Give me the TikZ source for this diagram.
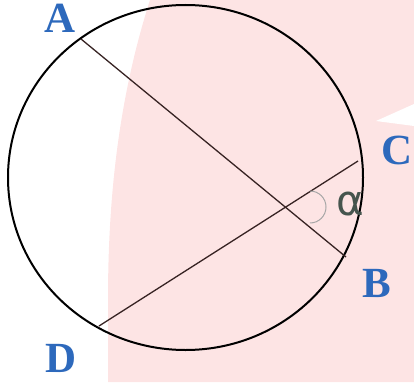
\documentclass[tikz,border=0pt]{standalone}
\usepackage{fontspec}
\newfontfamily\lblfont{Liberation Serif}
\newfontfamily\grkfont{DejaVu Sans}
\definecolor{pinkbg}{RGB}{253,228,228}
\definecolor{lblblue}{RGB}{45,105,188}
\definecolor{chordc}{RGB}{55,35,35}
\definecolor{alphac}{RGB}{70,85,78}
\begin{document}
\begin{tikzpicture}[x=1pt,y=-1pt,
  pt/.style={font=\lblfont\bfseries\fontsize{43}{43}\selectfont, text=lblblue, inner sep=0pt},
  chord/.style={draw=chordc, line width=1.3pt},
  rim/.style={draw=black, line width=2pt}]
\useasboundingbox (0,0) rectangle (414,382);
% pink background
\fill[pinkbg] (150,0) .. controls (118,100) and (108,200) .. (108,300) -- (108,382) -- (414,382) -- (414,0) -- cycle;
% white wedge near C
\fill[white] (376,121) -- (414,104) -- (414,126) -- cycle;
% circle
\draw[rim] (185.5,177.5) ellipse [x radius=177.5, y radius=172.5];
% chord end points
\coordinate (pA) at (81,39);
\coordinate (pB) at (346,257);
\coordinate (pC) at (358,161);
\coordinate (pD) at (99,326);
\draw[chord] (pA) -- (pB);
\draw[chord] (pD) -- (pC);
% angle arc
\coordinate (arcS) at (310,191);
\draw[gray!70, line width=1pt] (arcS) arc[start angle=-90, end angle=90, radius=16];
\node[font=\grkfont\fontsize{42}{42}\selectfont, text=alphac, inner sep=0pt] (alpha) at (350,204) {α};
% labels
\node[pt] (A) at (60,18) {A};
\node[pt] (C) at (397,150) {C};
\node[pt] (B) at (377,283) {B};
\node[pt] (D) at (61,358) {D};
\end{tikzpicture}
\end{document}
